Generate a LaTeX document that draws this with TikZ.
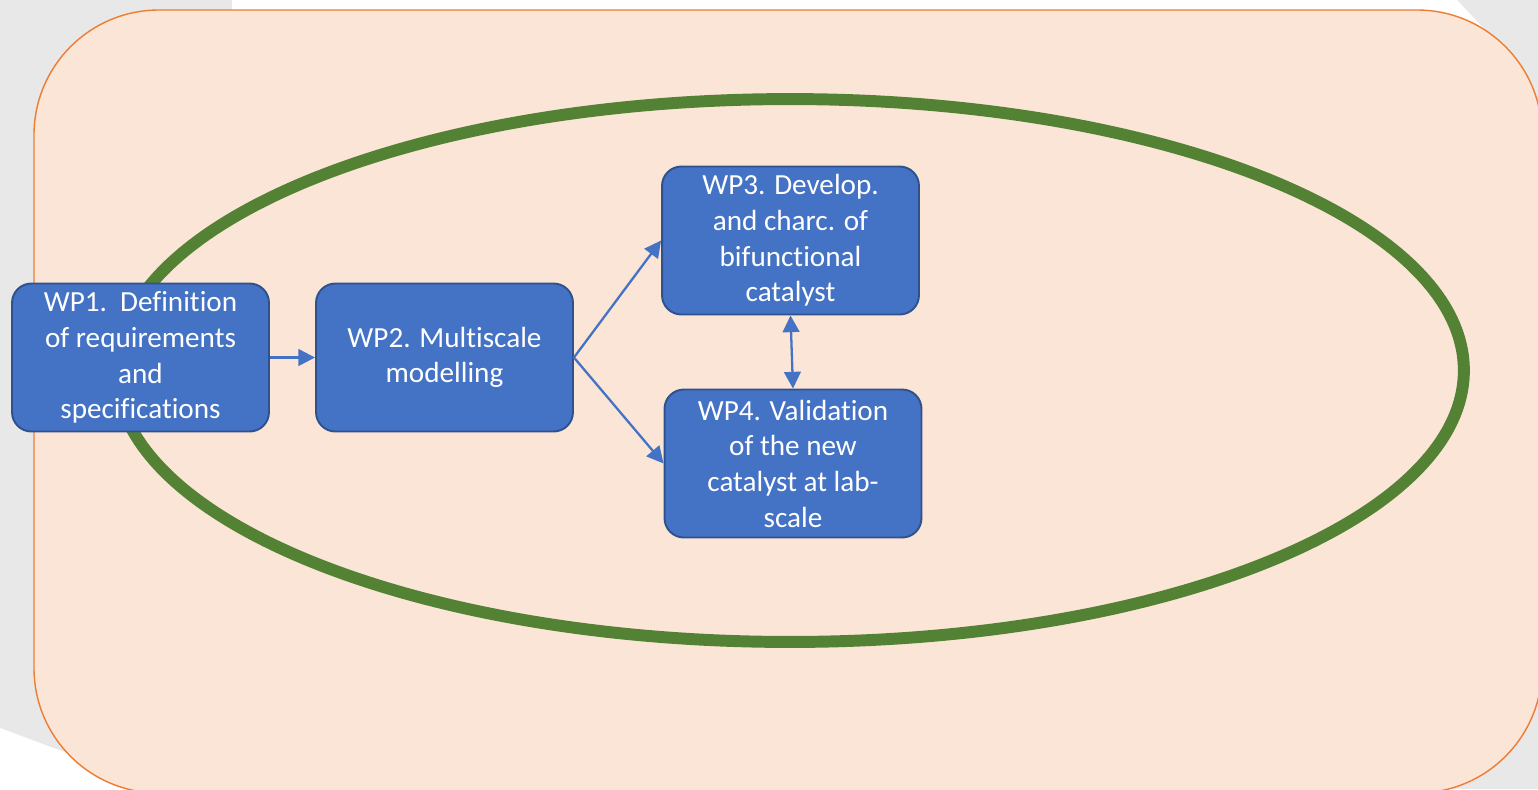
\documentclass[tikz,border=0pt]{standalone}
\usepackage{fontspec}
\setmainfont{Carlito}[Ligatures=NoCommon]
\usetikzlibrary{arrows.meta}
\definecolor{wpblue}{HTML}{4472C4}
\definecolor{wpedge}{HTML}{2F528F}
\definecolor{peachfill}{HTML}{FBE5D6}
\definecolor{peachedge}{HTML}{ED7D31}
\definecolor{ringgreen}{HTML}{548235}
\definecolor{pagegrey}{HTML}{E8E8E8}
\tikzset{
  wpbox/.style={draw=wpedge,line width=1.1pt,fill=wpblue,rounded corners=11pt,
    text=white,align=center,minimum width=5.14cm,minimum height=2.96cm,
    inner sep=0pt,font=\fontsize{16.6}{20.3}\selectfont},
  link/.style={draw=wpblue,line width=1.3pt,-{Triangle[length=9.5pt,width=9.5pt]}},
  duallink/.style={link,{Triangle[length=9.5pt,width=9.5pt]}-{Triangle[length=9.5pt,width=9.5pt]}}
}
\begin{document}
\begin{tikzpicture}[x=0.02cm,y=-0.02cm]
 \clip (0,0) rectangle (1538,789);
 % page behind the frame
 \fill[pagegrey](0,0) rectangle (1538,789);
 \fill[white](232,0)--(1457,0)--(1487,32)--(232,32)--cycle;
 \fill[white](0,728)--(67,753)--(160,800)--(0,800)--cycle;
 % frame and ring
 \draw[peachedge,fill=peachfill,line width=0.8pt,rounded corners=2.5cm](34,10) rectangle (1542,793);
 \draw[ringgreen,line width=6.8pt](790,370.5) ellipse [x radius=13.48cm,y radius=5.43cm];
 % work packages
 \node[wpbox] (wp1) at (140.5,357.5) {WP1.\ \ Definition\\of requirements\\and\\specifications};
 \node[wpbox] (wp2) at (444.5,357.5) {WP2. Multiscale\\modelling};
 \node[wpbox] (wp3) at (790.5,240.5) {WP3. Develop.\\and charc. of\\bifunctional\\catalyst};
 \node[wpbox] (wp4) at (793,463.5) {WP4. Validation\\of the new\\catalyst at lab-\\scale};
 \draw[link](wp1)--(wp2);
 \draw[link](wp2.east)--(wp3.west);
 \draw[link](wp2.east)--(wp4.west);
 \draw[duallink](wp3.south)--(wp4.north);
\end{tikzpicture}
\end{document}
